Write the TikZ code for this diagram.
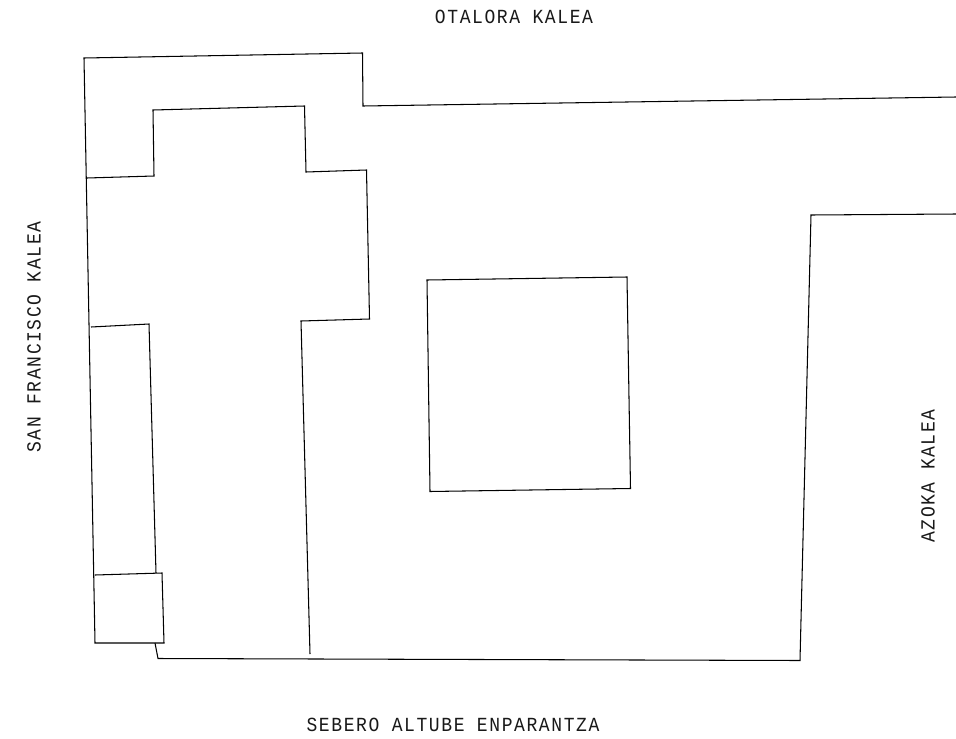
\documentclass[tikz,border=0pt]{standalone}
\usepackage{fontspec}
\setmainfont{Liberation Mono}[LetterSpace=8,FakeStretch=0.9]
\tikzset{wall/.style={draw=black,line width=1.05pt,line join=miter},
 street/.style={inner sep=0pt,font=\fontsize{20}{20}\selectfont,text=black!90}}
\begin{document}
\begin{tikzpicture}[x=1pt,y=-1pt]
\useasboundingbox[fill=white] (0,0) rectangle (956,739);
\draw[wall] (956,97) -- (363,106) -- (362.5,53) -- (84,58) -- (95,643) -- (164,643) -- (162,573) -- (95,575);
\draw[wall] (87,178) -- (154,176) -- (153,110) -- (304.5,106) -- (306,172) -- (366.5,170) -- (369.5,319) -- (301,321) -- (310,654);
\draw[wall] (91,327) -- (149,324) -- (156,573);
\draw[wall] (155,643) -- (158,658.5) -- (800,660.5) -- (811,215) -- (956,214);
\draw[wall] (427,280) -- (627,277) -- (630.5,488.5) -- (430,491.5) -- cycle;
\node[street] (otalora) at (514,17) {OTALORA KALEA};
\node[street] (sebero) at (453,725) {SEBERO ALTUBE ENPARANTZA};
\node[street,rotate=90] (sanfr) at (34,337) {SAN FRANCISCO KALEA};
\node[street,rotate=90] (azoka) at (928,476) {AZOKA KALEA};
\end{tikzpicture}
\end{document}
